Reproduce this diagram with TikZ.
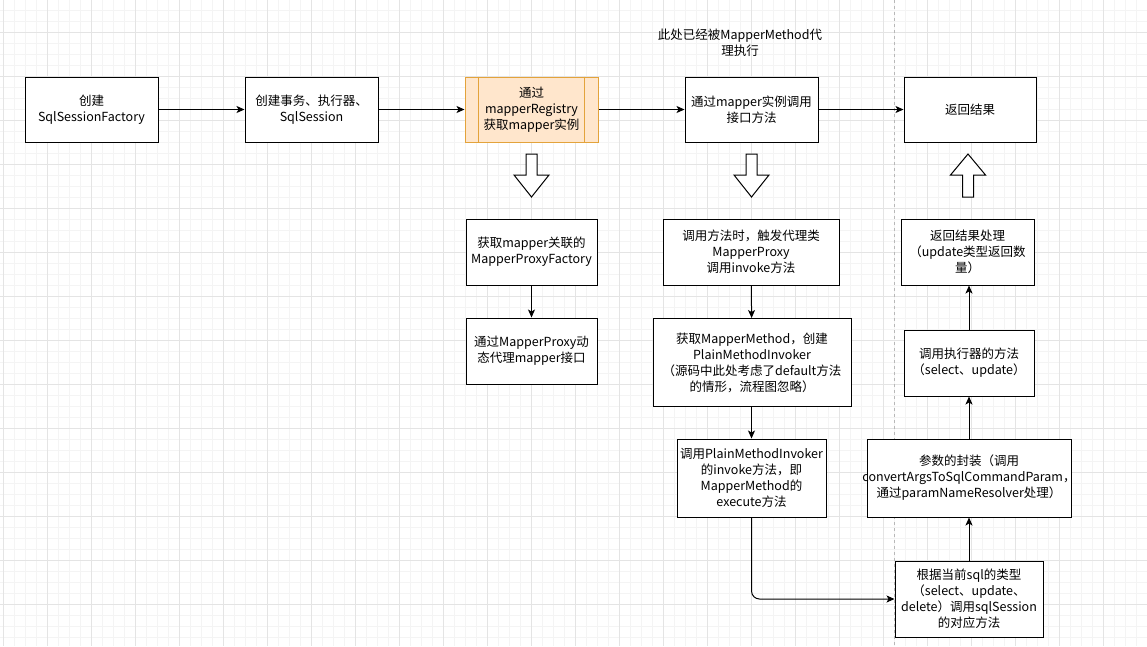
\documentclass[tikz,border=0pt]{standalone}
\usepackage{fontspec}
\usepackage{tikz}
\usetikzlibrary{arrows.meta,positioning,calc}
\setmainfont{Noto Sans CJK SC}
\definecolor{Orange}{HTML}{FFE6CC}
\definecolor{OrangeLine}{HTML}{E3A33B}
\definecolor{GridMinor}{HTML}{F4F4F4}
\definecolor{GridMajor}{HTML}{E4E4E4}
\definecolor{Dash}{HTML}{B8B8B8}
\tikzset{
  blockdown/.pic={\draw[line width=1pt,fill=white] (-5.5,0)--(5.5,0)--(5.5,21)--(17.5,21)--(0,43)--(-17.5,21)--(-5.5,21)--cycle;},
  blockup/.pic={\draw[line width=1pt,fill=white] (0,0)--(17.5,21)--(5.5,21)--(5.5,43)--(-5.5,43)--(-5.5,21)--(-17.5,21)--cycle;}
}

\begin{document}
\begin{tikzpicture}[x=1pt,y=-1pt,
    n/.style={draw,line width=1pt,fill=white,align=center,inner sep=1pt,font=\fontsize{12.5}{16}\selectfont},
    a/.style={-{Stealth[length=8pt,width=7pt,inset=2pt]},line width=1pt},
    gminor/.style={draw=GridMinor,line width=0.8pt},
    gmajor/.style={draw=GridMajor,line width=0.8pt}]
    \useasboundingbox (0,0) rectangle (1147,646);
    \fill[white] (0,0) rectangle (1147,646);
    % grid
    \foreach \i in {0,...,104} \draw[gminor] ({3.5+11*\i},0) -- ({3.5+11*\i},646);
    \foreach \j in {0,...,58} \draw[gminor] (0,{10+11*\j}) -- (1147,{10+11*\j});
    \foreach \i in {0,...,26} \draw[gmajor] ({3.5+44*\i},0) -- ({3.5+44*\i},646);
    \foreach \j in {0,...,14} \draw[gmajor] (0,{32+44*\j}) -- (1147,{32+44*\j});
    \draw[Dash,line width=0.8pt,dash pattern=on 3pt off 3pt] (894,0) -- (894,646);

    % top row
    \node[n,minimum width=133,minimum height=65] (factory) at (91.5,109.5) {创建\\SqlSessionFactory};
    \node[n,minimum width=133,minimum height=65] (session) at (311.5,109.5) {创建事务、执行器、\\SqlSession};
    \node[n,draw=OrangeLine,fill=Orange,minimum width=133,minimum height=65] (registry) at (531.5,109.5) {通过\\mapperRegistry\\获取mapper实例};
    \draw[OrangeLine,line width=1pt] ([xshift=14]registry.north west) -- ([xshift=14]registry.south west)
      ([xshift=-14]registry.north east) -- ([xshift=-14]registry.south east);
    \node[n,minimum width=133,minimum height=65] (call) at (751.5,109.5) {通过mapper实例调用\\接口方法};
    \node[n,minimum width=132,minimum height=65] (result) at (970,109.5) {返回结果};
    \node[align=center,font=\fontsize{12.5}{16}\selectfont] (note) at (740,43) {此处已经被MapperMethod代\\理执行};

    \draw[a] (factory) -- (session);
    \draw[a] (session) -- (registry);
    \draw[a] (registry) -- (call);
    \draw[a] (call) -- (result);

    \pic at (531.5,154) {blockdown};
    \pic at (751.5,154) {blockdown};
    \pic at (968,154) {blockup};

    % mapper proxy
    \node[n,minimum width=131,minimum height=66] (factoryget) at (531.5,252) {获取mapper关联的\\MapperProxyFactory};
    \node[n,minimum width=131,minimum height=66] (proxy) at (531.5,351) {通过MapperProxy动\\态代理mapper接口};
    \draw[a] (factoryget) -- (proxy);

    % invoke chain
    \node[n,minimum width=176,minimum height=66] (invoke) at (751,252) {调用方法时，触发代理类\\MapperProxy\\调用invoke方法};
    \node[n,minimum width=198,minimum height=88] (method) at (752,362.5) {获取MapperMethod，创建\\PlainMethodInvoker\\（源码中此处考虑了default方法\\的情形，流程图忽略）};
    \node[n,minimum width=149,minimum height=78] (plain) at (751.5,478) {调用PlainMethodInvoker\\的invoke方法，即\\MapperMethod的\\execute方法};
    \draw[a] (invoke) -- (method);
    \draw[a] (method.south -| plain.north) -- (plain);

    % sql session side
    \node[n,inner xsep=-6pt,minimum width=148,minimum height=76] (sqltype) at (969,599) {根据当前sql的类型\\（select、update、\\delete）调用sqlSession\\的对应方法};
    \node[n,inner xsep=-6pt,minimum width=204,minimum height=78] (param) at (969,478) {参数的封装（调用\\convertArgsToSqlCommandParam，\\通过paramNameResolver处理）};
    \node[n,minimum width=130,minimum height=66] (executor) at (969,363) {调用执行器的方法\\（select、update）};
    \node[n,minimum width=133,minimum height=66] (handle) at (967.5,252) {返回结果处理\\（update类型返回数\\量）};
    \draw[a,rounded corners=8pt] (plain.south) |- (sqltype.west);
    \draw[a] (sqltype) -- (param);
    \draw[a] (param.north -| executor.south) -- (executor);
    \draw[a] (executor.north) -- (executor.north |- handle.south);
  \end{tikzpicture}
\end{document}
